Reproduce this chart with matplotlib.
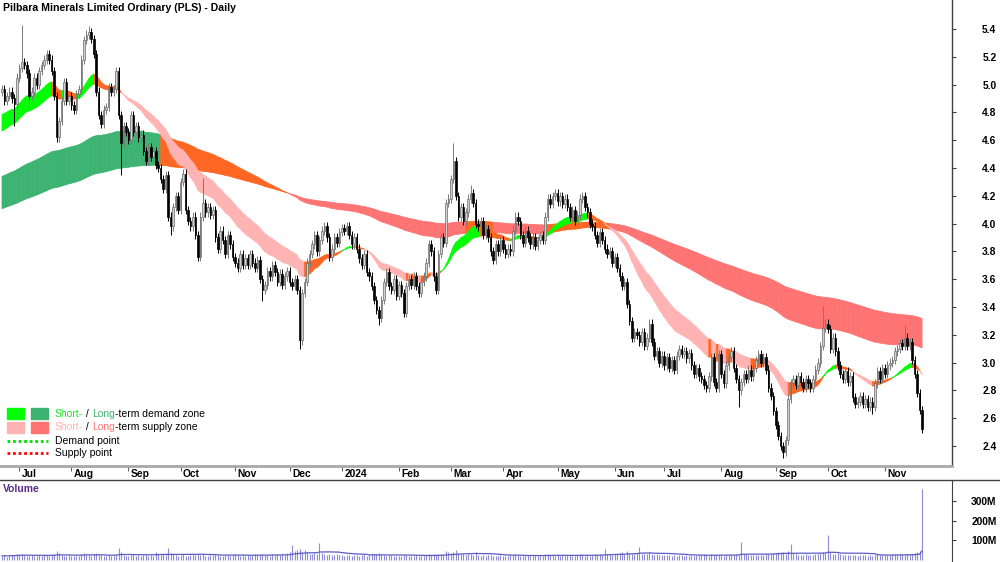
import numpy as np
import pandas as pd
import matplotlib
matplotlib.use('Agg')
import matplotlib.pyplot as plt
from matplotlib.collections import PolyCollection
from matplotlib.lines import Line2D
from matplotlib.patches import Rectangle

plt.rcParams['font.family'] = ['Liberation Sans', 'DejaVu Sans']

title = 'Pilbara Minerals Limited Ordinary (PLS) - Daily'
first_day = '2023-06-22'
first_open = 4.95

# daily closes, 10 per row
closes = [
    4.97, 4.88, 4.92, 4.95, 4.90, 4.86, 5.05, 5.12, 5.16, 5.14,
    5.08, 4.92, 4.95, 5.05, 5.00, 5.10, 5.14, 5.18, 5.22, 5.18,
    5.10, 4.92, 4.62, 4.74, 4.88, 5.02, 4.88, 4.92, 4.85, 4.82,
    4.93, 4.97, 5.18, 5.32, 5.36, 5.38, 5.33, 5.22, 4.95, 4.78,
    4.72, 4.82, 4.84, 4.98, 4.95, 4.97, 5.10, 4.78, 4.58, 4.70,
    4.66, 4.60, 4.78, 4.66, 4.70, 4.62, 4.64, 4.52, 4.45, 4.55,
    4.48, 4.52, 4.42, 4.40, 4.32, 4.25, 4.35, 4.05, 3.98, 4.12,
    4.20, 4.10, 4.30, 4.36, 4.10, 4.02, 3.98, 4.05, 3.92, 3.76,
    4.05, 4.15, 4.08, 4.12, 4.06, 4.10, 3.90, 3.82, 3.95, 3.88,
    3.78, 3.92, 3.85, 3.76, 3.72, 3.68, 3.78, 3.70, 3.75, 3.70,
    3.78, 3.72, 3.68, 3.74, 3.60, 3.52, 3.56, 3.66, 3.62, 3.70,
    3.65, 3.58, 3.64, 3.56, 3.62, 3.66, 3.58, 3.55, 3.60, 3.52,
    3.16, 3.50, 3.58, 3.72, 3.78, 3.85, 3.92, 3.80, 3.88, 3.95,
    3.98, 3.90, 3.76, 3.82, 3.90, 3.86, 3.94, 3.97, 3.95, 3.98,
    3.92, 3.85, 3.90, 3.82, 3.75, 3.70, 3.78, 3.65, 3.62, 3.55,
    3.45, 3.38, 3.32, 3.45, 3.58, 3.65, 3.55, 3.52, 3.60, 3.48,
    3.56, 3.50, 3.36, 3.55, 3.60, 3.56, 3.62, 3.55, 3.50, 3.58,
    3.62, 3.72, 3.85, 3.80, 3.62, 3.52, 3.78, 3.90, 3.86, 4.15,
    4.18, 4.32, 4.45, 4.20, 4.05, 4.12, 4.02, 4.08, 4.18, 4.22,
    4.15, 4.00, 3.98, 4.02, 3.92, 3.96, 3.90, 3.80, 3.74, 3.85,
    3.80, 3.88, 3.82, 3.78, 3.82, 3.80, 3.95, 4.05, 4.02, 3.92,
    3.86, 3.95, 3.90, 3.85, 3.90, 3.84, 3.88, 3.92, 3.88, 4.05,
    4.18, 4.14, 4.20, 4.22, 4.16, 4.20, 4.14, 4.18, 4.12, 4.05,
    4.10, 4.02, 4.06, 4.18, 4.20, 4.12, 4.08, 4.00, 3.98, 3.92,
    3.86, 3.94, 3.88, 3.82, 3.78, 3.80, 3.72, 3.76, 3.68, 3.62,
    3.55, 3.58, 3.42, 3.30, 3.18, 3.22, 3.20, 3.15, 3.22, 3.12,
    3.18, 3.28, 3.15, 3.05, 3.08, 3.00, 3.05, 2.98, 3.04, 2.96,
    3.02, 2.95, 3.05, 3.10, 3.06, 3.08, 3.03, 3.07, 2.98, 2.92,
    2.96, 2.90, 2.88, 2.84, 2.82, 2.90, 3.04, 2.86, 2.82, 3.06,
    2.92, 2.85, 2.98, 3.04, 3.08, 2.96, 2.88, 2.80, 2.86, 2.92,
    2.88, 2.95, 2.90, 2.96, 3.02, 3.06, 3.00, 3.04, 2.95, 2.82,
    2.76, 2.65, 2.55, 2.47, 2.40, 2.36, 2.44, 2.74, 2.85, 2.88,
    2.84, 2.90, 2.86, 2.82, 2.88, 2.85, 2.82, 2.88, 2.95, 3.00,
    3.12, 3.25, 3.28, 3.24, 3.10, 3.18, 3.08, 2.98, 2.92, 2.88,
    2.94, 2.86, 2.90, 2.75, 2.70, 2.72, 2.76, 2.70, 2.74, 2.68,
    2.72, 2.68, 2.85, 2.94, 2.88, 2.96, 2.92, 2.98, 3.00, 3.02,
    3.08, 3.10, 3.14, 3.12, 3.18, 3.12, 3.15, 3.02, 2.92, 2.78,
    2.66, 2.52,
]

# long wicks that stand out (day index: price)
high_marks = {8: 5.43, 35: 5.42, 81: 4.33, 182: 4.58, 189: 4.28, 331: 3.41, 364: 3.27}
low_marks = {5: 4.70, 48: 4.35, 68: 3.92, 105: 3.44, 120: 3.10, 152: 3.27,
             297: 2.68, 315: 2.31, 351: 2.63}

# daily volume, millions
volume_m = [
    18, 22, 15, 20, 25, 19, 28, 24, 30, 21,
    17, 20, 23, 18, 16, 22, 19, 25, 21, 18,
    24, 30, 45, 33, 22, 20, 18, 21, 17, 19,
    16, 20, 28, 31, 22, 25, 19, 27, 34, 26,
    21, 18, 20, 24, 17, 19, 23, 60, 38, 25,
    20, 18, 22, 26, 19, 21, 17, 24, 28, 20,
    22, 19, 40, 26, 24, 30, 23, 58, 34, 27,
    21, 19, 25, 28, 20, 18, 22, 26, 24, 30,
    23, 27, 20, 19, 24, 21, 26, 22, 18, 20,
    22, 25, 19, 23, 28, 21, 20, 24, 18, 22,
    19, 23, 26, 21, 24, 30, 22, 25, 20, 27,
    23, 26, 21, 28, 24, 33, 38, 73, 42, 50,
    55, 38, 48, 36, 30, 28, 34, 26, 86, 32,
    27, 24, 30, 22, 25, 28, 21, 24, 20, 23,
    22, 19, 24, 21, 18, 23, 26, 20, 25, 28,
    30, 26, 32, 24, 22, 19, 21, 24, 18, 20,
    17, 19, 24, 21, 18, 16, 20, 22, 19, 17,
    20, 25, 28, 22, 26, 24, 27, 30, 25, 45,
    38, 35, 40, 48, 32, 28, 26, 24, 30, 28,
    25, 40, 22, 20, 24, 19, 21, 23, 18, 20,
    19, 22, 18, 17, 20, 21, 24, 28, 22, 19,
    18, 20, 22, 17, 19, 21, 18, 16, 20, 26,
    30, 24, 22, 20, 23, 19, 21, 18, 24, 22,
    20, 19, 23, 26, 21, 18, 22, 20, 24, 26,
    23, 28, 25, 55, 30, 26, 24, 28, 27, 32,
    36, 30, 45, 34, 30, 28, 32, 65, 30, 28,
    26, 40, 28, 24, 26, 22, 25, 21, 24, 22,
    20, 23, 19, 22, 21, 18, 24, 20, 22, 19,
    21, 24, 22, 26, 23, 20, 28, 25, 22, 24,
    22, 20, 25, 23, 21, 24, 28, 22, 90, 30,
    26, 24, 22, 25, 23, 21, 24, 22, 26, 28,
    30, 34, 32, 38, 40, 36, 30, 44, 80, 35,
    28, 25, 24, 22, 26, 23, 21, 24, 27, 30,
    35, 40, 32, 125, 36, 30, 28, 32, 26, 24,
    22, 24, 21, 25, 23, 20, 22, 24, 21, 19,
    22, 20, 24, 26, 22, 25, 23, 21, 24, 26,
    28, 25, 30, 26, 24, 28, 26, 30, 32, 38,
    45, 360,
]

# moving average zones: (span, value at first day)
short_fast, short_slow = (25, 4.77), (40, 4.65)
long_fast, long_slow = (140, 4.33), (240, 4.10)

W, H = 1000, 562
GREEN, DKGREEN = '#00ff00', '#3cb371'
PINK, RED, ORANGE = '#ffb3b3', '#ff7373', '#ff6622'


def ema(values, span, start):
    a = 2.0 / (span + 1)
    out, v = [], start
    for x in values:
        v = v + a * (x - v)
        out.append(v)
    return np.array(out)


def draw_zone(ax, fast, slow, strong, up_col, down_col):
    # strong: True where the zone's driver sits above its fast line
    polys, cols = [], []
    for i in range(len(fast) - 1):
        j = i + 1
        if fast[j] > slow[j] and strong[j]:
            c = up_col
        elif fast[j] < slow[j] and not strong[j]:
            c = down_col
        else:
            c = ORANGE
        polys.append([(i, fast[i]), (j, fast[j]), (j, slow[j]), (i, slow[i])])
        cols.append(c)
    pc = PolyCollection(polys, facecolors=cols, edgecolors=cols, linewidths=0.5, zorder=1)
    ax.add_collection(pc)


def fx(px):
    return px / W


def fy(py):
    return 1 - py / H


c = np.array(closes)
n = len(c)
idx = np.arange(n)
dates = pd.bdate_range(first_day, periods=n)
o = np.r_[first_open, c[:-1]]
hi = np.maximum(o, c) + 0.03
lo = np.minimum(o, c) - 0.03
for k, v in high_marks.items():
    hi[k] = v
for k, v in low_marks.items():
    lo[k] = v

fig = plt.figure(figsize=(W / 100, H / 100), dpi=100)
ax = fig.add_axes([0, fy(466), 0.952, 466 / H])
ax_d = fig.add_axes([0, fy(480), 0.952, 14 / H])
ax_v = fig.add_axes([0, 0, 0.952, 82 / H])

xlim = (-0.8, 383.06)

# zones
sf = ema(c, *short_fast)
ss = ema(c, *short_slow)
lf = ema(c, *long_fast)
ls = ema(c, *long_slow)
sf_prev = np.r_[short_fast[1], sf[:-1]]
draw_zone(ax, lf, ls, sf > lf, DKGREEN, RED)
draw_zone(ax, sf, ss, sf >= sf_prev, GREEN, PINK)

# candles
up = c >= o
ax.vlines(idx[up], lo[up], hi[up], color='#7a7a7a', lw=0.7, zorder=2)
ax.vlines(idx[~up], lo[~up], hi[~up], color='black', lw=0.7, zorder=2)
ax.bar(idx[up], np.maximum(c[up] - o[up], 0.008), bottom=o[up], width=0.62,
       color='#d0d0d0', edgecolor='#6a6a6a', linewidth=0.5, zorder=3)
ax.bar(idx[~up], np.maximum(o[~up] - c[~up], 0.008), bottom=c[~up], width=0.62,
       color='black', edgecolor='black', linewidth=0.5, zorder=3)

ax.set_xlim(*xlim)
ax.set_ylim(2.256, 5.6086)
ax.set_xticks([])
ax.yaxis.tick_right()
yt = np.round(np.arange(2.4, 5.41, 0.2), 1)
ax.set_yticks(yt)
ax.set_yticklabels([f'{v:.1f}' for v in yt])
ax.tick_params(axis='y', direction='out', length=3, width=0.8, color='#404040',
               pad=29, labelsize=7.4)
for lbl in ax.get_yticklabels():
    lbl.set_horizontalalignment('right')
    lbl.set_fontweight('bold')
for s in ['top', 'left', 'bottom']:
    ax.spines[s].set_visible(False)
ax.spines['right'].set_color('#404040')
ax.spines['right'].set_linewidth(1)

# date strip
ax_d.set_xlim(*xlim)
ax_d.set_ylim(0, 1)
ax_d.set_xticks([])
ax_d.set_yticks([])
for s in ['left', 'bottom', 'right']:
    ax_d.spines[s].set_visible(False)
ax_d.spines['top'].set_color('#a8a8a8')
ax_d.spines['top'].set_linewidth(2)
months = pd.Series(dates.month)
starts = np.where(months.values != np.r_[0, months.values[:-1]])[0]
for k in starts:
    d = dates[k]
    if d.day > 7:
        continue
    lab = str(d.year) if d.month == 1 else d.strftime('%b')
    ax_d.vlines(k, 0.62, 1.0, color='#606060', lw=0.8)
    ax_d.text(k + 1.0, 0.42, lab, ha='left', va='center', fontsize=7.4, fontweight='bold')
fig.add_artist(Line2D([0, 1], [fy(480), fy(480)], color='#404040', lw=1,
                      transform=fig.transFigure))

# volume
ax_v.vlines(idx, 0, volume_m, color='#8c8cda', lw=0.8)
vol_ma = pd.Series(volume_m).rolling(20, min_periods=1).mean()
ax_v.plot(idx, vol_ma, color='#5c5cc4', lw=0.9)
ax_v.set_xlim(*xlim)
ax_v.set_ylim(-12.8, 407.7)
ax_v.set_xticks([])
ax_v.yaxis.tick_right()
ax_v.set_yticks([100, 200, 300])
ax_v.set_yticklabels(['100M', '200M', '300M'])
ax_v.tick_params(axis='y', direction='out', length=3, width=0.8, color='#404040',
                 pad=29, labelsize=7.4)
for lbl in ax_v.get_yticklabels():
    lbl.set_horizontalalignment('right')
    lbl.set_fontweight('bold')
for s in ['top', 'left', 'bottom']:
    ax_v.spines[s].set_visible(False)
ax_v.spines['right'].set_color('#404040')
fig.text(fx(3), fy(489), 'Volume', color='#5a2a8a', fontsize=7.4, fontweight='bold', va='center')

# title
fig.text(fx(3), fy(8), title, fontsize=7.6, fontweight='bold', va='center')

# legend
for col, x0, y0 in [(GREEN, 7, 408), (DKGREEN, 31, 408), (PINK, 7, 422), (RED, 31, 422)]:
    fig.add_artist(Rectangle((fx(x0), fy(y0 + 11)), 17 / W, 11 / H, color=col,
                             transform=fig.transFigure))
fig.add_artist(Line2D([fx(7), fx(48)], [fy(441), fy(441)], color='#00dd00', lw=2,
                      ls=(0, (1, 1)), transform=fig.transFigure))
fig.add_artist(Line2D([fx(7), fx(48)], [fy(453), fy(453)], color='#ff0000', lw=2,
                      ls=(0, (1, 1)), transform=fig.transFigure))

rend = fig.canvas.get_renderer()


def chain(x_px, y_px, pieces):
    x = x_px
    for s, col in pieces:
        t = fig.text(fx(x), fy(y_px), s, color=col, fontsize=7.5, va='center', ha='left')
        x += t.get_window_extent(renderer=rend).width


chain(55, 414, [('Short-', '#1ee61e'), (' / ', 'black'), ('Long', DKGREEN),
                ('-term demand zone', 'black')])
chain(55, 427, [('Short-', PINK), (' / ', 'black'), ('Long', RED),
                ('-term supply zone', 'black')])
chain(55, 441, [('Demand point', 'black')])
chain(55, 453, [('Supply point', 'black')])

fig.savefig('out.png', dpi=100)
